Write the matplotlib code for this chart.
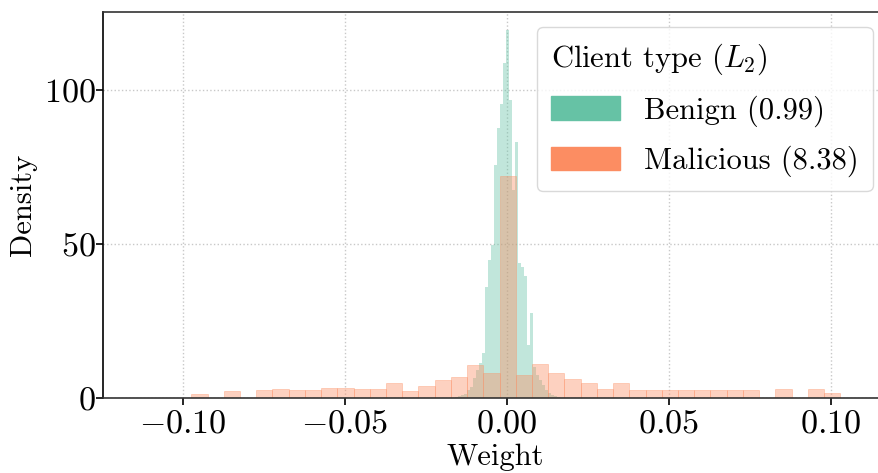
import matplotlib
matplotlib.use("Agg")
import matplotlib.pyplot as plt
from matplotlib.patches import Patch
import numpy as np

plt.rcParams['font.family'] = 'serif'
plt.rcParams['font.serif'] = ['cmr10']
plt.rcParams['mathtext.fontset'] = 'cm'
plt.rcParams['axes.formatter.use_mathtext'] = True
plt.rcParams['font.size'] = 22

# histogram data (density per bin)
benign_start = -0.01600
benign_width = 0.00093
benign_density = [0.3, 0.7, 1.0, 1.3, 2.6, 3.7, 6.5, 9.0, 11.3, 14.5,
                  36.1, 44.8, 49.7, 75.6, 87.6, 95.6, 108.9, 119.5, 96.8, 67.5,
                  83.2, 43.8, 42.6, 39.6, 17.2, 27.6, 10.2, 7.5, 5.8, 4.2,
                  2.6, 1.5, 1.0, 0.6, 0.3]

malicious_start = -0.0975
malicious_width = 0.005013
malicious_density = [1.3, 0, 2.3, 0, 2.5, 2.9, 2.5, 2.5, 3.2, 3.2,
                     2.9, 2.9, 4.9, 2.3, 3.9, 5.8, 6.8, 10.7, 8.0, 72.1,
                     7.5, 11.0, 8.1, 6.2, 4.9, 2.9, 4.9, 2.6, 2.6, 2.6,
                     2.6, 2.6, 2.6, 2.6, 2.6, 0, 2.9, 0, 2.9, 1.6]

labels = ['Benign (0.99)', 'Malicious (8.38)']
colors = ['#66c2a5', '#fc8d62']
edge_widths = [0, 0.6]

fig = plt.figure(figsize=(8.79, 4.73), dpi=100)
ax = fig.add_axes([0.1172, 0.1586, 0.8928, 0.816])

series = [(benign_start, benign_width, benign_density),
          (malicious_start, malicious_width, malicious_density)]
for (start, width, dens), c, lw in zip(series, colors, edge_widths):
    edges = start + width * np.arange(len(dens))
    ax.bar(edges, dens, width=width, align='edge', color=c, alpha=0.4,
           edgecolor=c, linewidth=lw)

ax.set_xlim(-0.1248, 0.1177)
ax.set_ylim(0, 125.3)
ax.set_xticks([-0.10, -0.05, 0.0, 0.05, 0.10])
ax.set_yticks([0, 50, 100])
ax.set_xticklabels([r'$-0.10$', r'$-0.05$', r'$0.00$', r'$0.05$', r'$0.10$'])
ax.set_yticklabels([r'$0$', r'$50$', r'$100$'])
ax.grid(True, linestyle=':', color='#c8c8c8', linewidth=1.0)
ax.set_axisbelow(True)
ax.tick_params(direction='out', length=5, width=1.2, labelsize=24.5)
ax.tick_params(axis='x', pad=3)
ax.tick_params(axis='y', pad=0)
for s in ax.spines.values():
    s.set_linewidth(1.2)
ax.spines['bottom'].set_color('#333333')
ax.spines['top'].set_color('#333333')

ax.set_xlabel('Weight', labelpad=4)
ax.set_ylabel('Density', labelpad=5)

handles = [Patch(color=c, label=l) for c, l in zip(colors, labels)]
leg = ax.legend(handles=handles, title=r'Client type ($L_2$)', loc='upper right',
                alignment='left', fancybox=True, framealpha=0.8, edgecolor='#d0d0d0',
                handlelength=2.25, handleheight=0.8, labelspacing=0.62,
                borderpad=0.45)
leg.get_frame().set_linewidth(1.0)

fig.savefig('out.png', dpi=100)
